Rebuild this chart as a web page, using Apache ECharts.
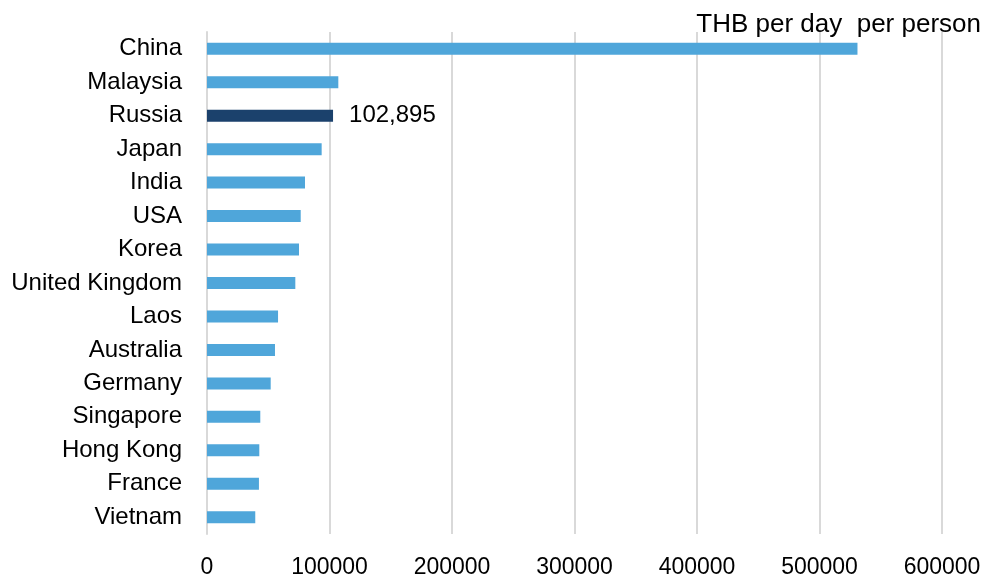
<!DOCTYPE html>
<html>
<head>
<meta charset="utf-8">
<script src="https://cdn.jsdelivr.net/npm/echarts@6/dist/echarts.min.js"></script>
<style>
  html, body { margin: 0; padding: 0; background: #fff; }
  #chart { width: 988px; height: 576px; }
</style>
</head>
<body>
<div id="chart"></div>
<script>
// spending per tourist, THB per day per person
const countries = ['China', 'Malaysia', 'Russia', 'Japan', 'India', 'USA', 'Korea', 'United Kingdom',
  'Laos', 'Australia', 'Germany', 'Singapore', 'Hong Kong', 'France', 'Vietnam'];
const spending = [531000, 107200, 102895, 93600, 80000, 76500, 75100, 72100,
  58000, 55500, 52000, 43500, 42700, 42400, 39400];
const highlight = 'Russia';
const xTicks = [0, 100000, 200000, 300000, 400000, 500000, 600000];

const chart = echarts.init(document.getElementById('chart'));

const barData = spending.map((v, i) => {
  const isHi = countries[i] === highlight;
  return {
    value: v,
    itemStyle: { color: isHi ? '#1b416c' : '#4fa6da' },
    label: {
      show: isHi,
      position: 'right',
      distance: 16,
      formatter: (p) => p.value.toLocaleString('en-US'),
      color: '#000',
      fontSize: 24,
      fontFamily: 'Liberation Sans'
    }
  };
});

chart.setOption({
  animation: false,
  textStyle: { fontFamily: 'Liberation Sans' },
  title: {
    text: 'THB per day  per person',
    right: 2,
    top: 7,
    textStyle: { fontSize: 26, fontWeight: 'normal', color: '#000', fontFamily: 'Liberation Sans' }
  },
  grid: { left: 207, right: 46, top: 32, bottom: 42, outerBoundsMode: 'none' },
  xAxis: {
    type: 'value',
    min: xTicks[0],
    max: xTicks[xTicks.length - 1],
    interval: 100000,
    axisLine: { show: false },
    axisTick: { show: false },
    axisLabel: { color: '#000', fontSize: 23, margin: 22, formatter: (v) => String(v) },
    splitLine: { lineStyle: { color: '#d9d9d9', width: 2 } }
  },
  yAxis: {
    type: 'category',
    inverse: true,
    data: countries,
    axisLine: { show: true, lineStyle: { color: '#d9d9d9', width: 2 } },
    axisTick: { show: false },
    axisLabel: { color: '#000', fontSize: 24, margin: 25 }
  },
  series: [{
    type: 'bar',
    data: barData,
    barWidth: 12
  }]
});
</script>
</body>
</html>
